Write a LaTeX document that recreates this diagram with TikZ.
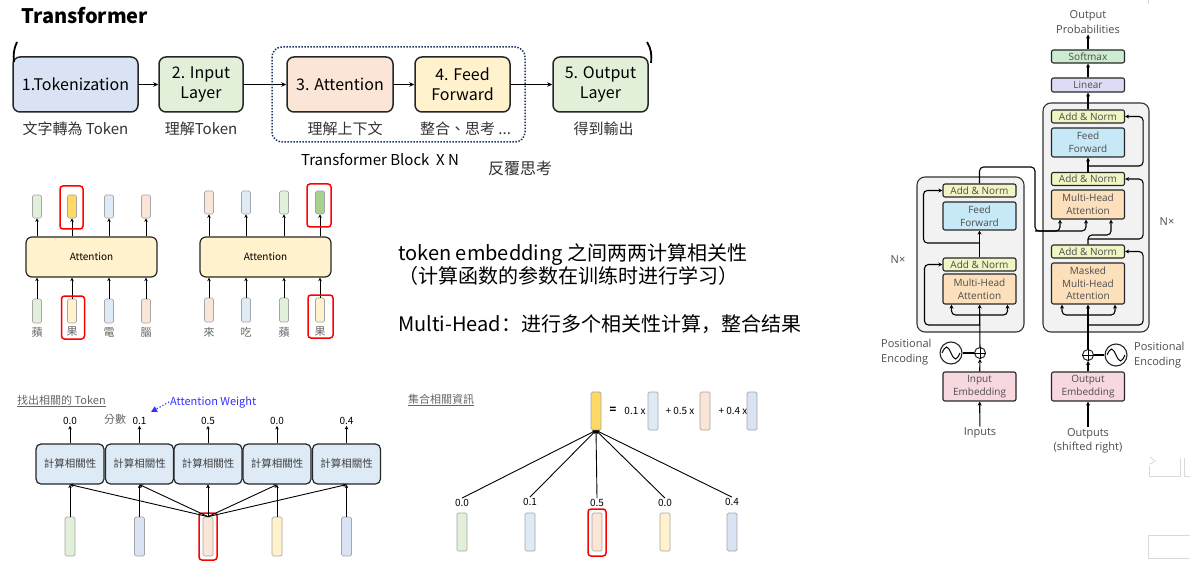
\documentclass[tikz,border=0pt]{standalone}
\usepackage{fontspec}
\setmainfont{Noto Sans CJK TC}
\newfontfamily\scfont{Noto Sans CJK SC}
\newfontfamily\paperfont{Open Sans}
\usepackage{xcolor}
\usepackage{tikz}
\usetikzlibrary{arrows.meta,calc,positioning,shapes.geometric}

\definecolor{tokblue}{HTML}{DAE3F3}
\definecolor{inpgreen}{HTML}{E2F0D9}
\definecolor{attpeach}{HTML}{FBE5D6}
\definecolor{ffyellow}{HTML}{FFF2CC}
\definecolor{vecgray}{HTML}{A6A6A6}
\definecolor{vecyellow}{HTML}{FFD966}
\definecolor{vecblue}{HTML}{DEEBF7}
\definecolor{vecgreen}{HTML}{A9D18E}
\definecolor{hlred}{HTML}{FF0000}
\definecolor{framenavy}{HTML}{203864}
\definecolor{awblue}{HTML}{3333FF}
\definecolor{papertext}{HTML}{4D4D4D}
\definecolor{blockgray}{HTML}{F2F2F2}
\definecolor{normgreen}{HTML}{F1F4C3}
\definecolor{ffblue}{HTML}{C7E8F6}
\definecolor{mhaorange}{HTML}{FCE0BC}
\definecolor{embpink}{HTML}{F8D8DF}
\definecolor{linlav}{HTML}{DCDDF4}
\definecolor{smgreen}{HTML}{CCEBD1}
\definecolor{ghost}{HTML}{D9D9D9}

\begin{document}
\begin{tikzpicture}[x=1pt,y=-1pt,
  stage/.style={draw=black!85,line width=1.5pt,rounded corners=7pt,minimum height=55pt,
    align=center,inner sep=2pt,font=\fontsize{16}{20}\selectfont},
  note/.style={font=\fontsize{15}{17}\selectfont,text=black!80,inner sep=1pt},
  flow/.style={-{Stealth[length=5pt,width=4.5pt]},line width=1.2pt},
  vlink/.style={-{Stealth[length=3.5pt,width=3.5pt]},line width=.9pt},
  vec/.style={draw=vecgray,line width=.7pt,rounded corners=1.5pt,minimum width=9pt,inner sep=0pt},
  hl/.style={draw=hlred,line width=1.5pt,rounded corners=3pt,minimum width=23pt,minimum height=43pt,inner sep=0pt},
  attn/.style={draw=black!85,line width=1.2pt,fill=ffyellow,rounded corners=6pt,minimum width=131pt,
    minimum height=40pt,font=\fontsize{10}{12}\selectfont},
  tiny/.style={font=\fontsize{11}{13}\selectfont,text=black!60,inner sep=1pt},
  relbox/.style={draw=black!85,line width=1.2pt,fill=vecblue,rounded corners=5pt,minimum width=68pt,
    minimum height=40pt,font=\fontsize{10.5}{13}\selectfont,text=black!75},
  score/.style={font=\fontsize{10}{12}\selectfont,inner sep=1pt},
  desc/.style={font=\fontsize{20}{22}\selectfont\scfont,anchor=west,inner sep=0pt},
  layer/.style={draw=black!85,line width=1.1pt,rounded corners=2pt,minimum width=73pt,inner sep=0pt,
    align=center,font=\paperfont\fontsize{10}{12.5}\selectfont,text=papertext},
  block/.style={draw=black!80,line width=1.1pt,fill=blockgray,rounded corners=8pt,inner sep=0pt},
  tarrow/.style={-{Stealth[length=4pt,width=4pt]},line width=1.1pt,rounded corners=4pt},
  paper/.style={font=\paperfont\fontsize{11}{14.5}\selectfont,text=papertext,align=center,inner sep=1pt},
  ghostline/.style={draw=ghost,line width=.8pt}]
\path[use as bounding box,fill=white] (0,0) rectangle (1190,569);

\node[anchor=west,font=\fontsize{20}{24}\selectfont\bfseries] (title) at (18,16) {Transformer};

\node[stage,fill=tokblue,minimum width=125pt] (tok) at (75.5,84.5) {1.Tokenization};
\node[stage,fill=inpgreen,minimum width=84pt,right=19.5pt of tok] (inp) {2. Input\\Layer};
\node[stage,fill=attpeach,minimum width=106pt,right=42.5pt of inp] (att) {3. Attention};
\node[stage,fill=ffyellow,minimum width=95pt,right=20.5pt of att] (ff) {4. Feed\\Forward};
\node[stage,fill=inpgreen,minimum width=95pt,right=41.5pt of ff] (outl) {5. Output\\Layer};
\node[note] (tokn) at ([yshift=-16pt]tok.south) {文字轉為 Token};
\node[note] (inpn) at ([yshift=-16pt]inp.south) {理解Token};
\node[note] (attn) at ([xshift=5pt,yshift=-16pt]att.south) {理解上下文};
\node[note] (ffn) at ([xshift=3pt,yshift=-16pt]ff.south) {整合、思考 ...};
\node[note] (outn) at ([xshift=3pt,yshift=-16pt]outl.south) {得到輸出};
\draw[flow] (tok)--(inp);
\draw[flow] (inp)--(att);
\draw[flow] (att)--(ff);
\draw[flow] (ff)--(outl);
\draw[framenavy,line width=1.5pt,dash pattern=on 1.5pt off 1.5pt,rounded corners=10pt] (272,47) rectangle (525,142);
\node[note,text=black] (blkn) at (380,160) {Transformer Block\ \ X N};
\node[note,font=\fontsize{16}{18}\selectfont] (rep) at (520,168) {反覆思考};
\draw[line width=1.8pt] (17,42) .. controls (14,48) and (13,55) .. (14,62);
\draw[line width=1.8pt] (647,42) .. controls (651,48) and (652,55) .. (651,63);

\node[attn] (attA) at (91.5,257) {Attention};
\node[attn] (attB) at (265.5,257) {Attention};
\node[vec,fill=inpgreen,minimum height=23pt] (ta1) at (37,206.5) {};
\node[vec,fill=vecyellow,minimum height=23pt] (ta2) at (72,206.5) {};
\node[vec,fill=vecblue,minimum height=23pt] (ta3) at (109,206.5) {};
\node[vec,fill=attpeach,minimum height=23pt] (ta4) at (146,206.5) {};
\node[vec,fill=inpgreen,minimum height=24pt] (ba1) at (37,311) {};
\node[vec,fill=ffyellow,minimum height=24pt] (ba2) at (72,311) {};
\node[vec,fill=vecblue,minimum height=24pt] (ba3) at (109,311) {};
\node[vec,fill=attpeach,minimum height=24pt] (ba4) at (146,311) {};
\node[tiny] (ca1) at (37,332) {蘋};
\node[tiny] (ca2) at (72,332) {果};
\node[tiny] (ca3) at (109,332) {電};
\node[tiny] (ca4) at (146,332) {腦};
\node[vec,fill=attpeach,minimum height=23pt] (tb1) at (209,202.5) {};
\node[vec,fill=vecblue,minimum height=23pt] (tb2) at (246,202.5) {};
\node[vec,fill=inpgreen,minimum height=23pt] (tb3) at (284,202.5) {};
\node[vec,fill=vecgreen,minimum height=23pt] (tb4) at (320,202.5) {};
\node[vec,fill=attpeach,minimum height=24pt] (bb1) at (209,310) {};
\node[vec,fill=vecblue,minimum height=24pt] (bb2) at (246,310) {};
\node[vec,fill=inpgreen,minimum height=24pt] (bb3) at (284,310) {};
\node[vec,fill=ffyellow,minimum height=24pt] (bb4) at (320,310) {};
\node[tiny] (cb1) at (209,332) {來};
\node[tiny] (cb2) at (246,332) {吃};
\node[tiny] (cb3) at (284,332) {蘋};
\node[tiny] (cb4) at (320,332) {果};
\foreach \i in {1,...,4}{
  \draw[vlink] (ta\i |- attA.north) -- (ta\i.south);
  \draw[vlink] (ba\i.north) -- (ba\i |- attA.south);
  \draw[vlink] (tb\i |- attB.north) -- (tb\i.south);
  \draw[vlink] (bb\i.north) -- (bb\i |- attB.south);
}
\node[hl] (hta) at (71.5,207.5) {};
\node[hl] (hba) at (73,317.5) {};
\node[hl,minimum width=24pt] (htb) at (319,205.5) {};
\node[hl,minimum width=25pt] (hbb) at (320.5,316.5) {};

\node[desc] (d1) at (398,255) {token embedding 之间两两计算相关性};
\node[desc] (d2) at (398,276) {（计算函数的参数在训练时进行学习）};
\node[desc] (d3) at (398,324) {Multi-Head：进行多个相关性计算，整合结果};

\node[tiny,anchor=west] (find) at (16,401) {\underline{找出相關的 Token}};
\node[font=\fontsize{11}{13}\selectfont,text=awblue,anchor=west,inner sep=1pt] (aw) at (169,402) {Attention Weight};
\coordinate (awtip) at (151,412);
\draw[awblue,line width=1.2pt,dotted,-{Triangle[length=6pt,width=6pt]}] (aw.west) -- (awtip);
\node[tiny] (fen) at (115,419) {分數};
\node[relbox] (r1) at (70,464) {計算相關性};
\node[relbox] (r2) at (139.5,464) {計算相關性};
\node[relbox] (r3) at (208,464) {計算相關性};
\node[relbox] (r4) at (277,464) {計算相關性};
\node[relbox] (r5) at (346.5,464) {計算相關性};
\node[score] (s1) at (70,421) {0.0};
\node[score] (s2) at (139.5,421) {0.1};
\node[score] (s3) at (208,421) {0.5};
\node[score] (s4) at (277,421) {0.0};
\node[score] (s5) at (346.5,421) {0.4};
\node[vec,fill=inpgreen,minimum width=10pt,minimum height=39pt] (v1) at (70,536.5) {};
\node[vec,fill=tokblue,minimum width=10pt,minimum height=39pt] (v2) at (139.5,536.5) {};
\node[vec,fill=attpeach,minimum width=10pt,minimum height=39pt] (v3) at (208,536.5) {};
\node[vec,fill=ffyellow,minimum width=10pt,minimum height=39pt] (v4) at (277,536.5) {};
\node[vec,fill=tokblue,minimum width=10pt,minimum height=39pt] (v5) at (346.5,536.5) {};
\node[hl,minimum width=18pt,minimum height=47pt] (hv3) at (208,536.5) {};
\foreach \i in {1,...,5}{
  \draw[vlink] (r\i) -- (s\i);
  \draw[vlink] (v\i) -- (r\i);
  \draw[vlink] (v3.north) -- (r\i.south);
}

\node[tiny,anchor=west] (gather) at (407,400) {\underline{集合相關資訊}};
\node[vec,fill=vecyellow,minimum width=10pt,minimum height=38pt] (sum) at (596,411) {};
\node[score,font=\fontsize{11}{12}\selectfont\bfseries] (eq) at (613,410) {=};
\node[score] (w1) at (635,411) {0.1 x};
\node[vec,fill=vecblue,minimum width=10pt,minimum height=38pt] (m1) at (653,411) {};
\node[score] (w2) at (680,411) {+ 0.5 x};
\node[vec,fill=attpeach,minimum width=10pt,minimum height=38pt] (m2) at (705,411) {};
\node[score] (w3) at (733,411) {+ 0.4 x};
\node[vec,fill=tokblue,minimum width=10pt,minimum height=38pt] (m3) at (752,411) {};
\node[vec,fill=inpgreen,minimum width=10pt,minimum height=38pt] (u1) at (462,532) {};
\node[vec,fill=vecblue,minimum width=10pt,minimum height=38pt] (u2) at (530,532) {};
\node[vec,fill=attpeach,minimum width=10pt,minimum height=38pt] (u3) at (597,532) {};
\node[vec,fill=ffyellow,minimum width=10pt,minimum height=38pt] (u4) at (665,532) {};
\node[vec,fill=tokblue,minimum width=10pt,minimum height=38pt] (u5) at (732,532) {};
\node[hl,minimum width=18pt,minimum height=47pt] (hu3) at (597,532.5) {};
\node[score] (p1) at (462,503) {0.0};
\node[score] (p2) at (530,502) {0.1};
\node[score] (p3) at (597,503) {0.5};
\node[score] (p4) at (665,503) {0.0};
\node[score] (p5) at (732,502) {0.4};
\foreach \i in {1,...,5}{
  \draw[vlink] (p\i.north) -- (sum.south);
}

\node[block,minimum width=107pt,minimum height=155pt] (enc) at (970.5,254.5) {};
\node[block,minimum width=106pt,minimum height=229pt] (dec) at (1096,217.5) {};
\node[layer,fill=normgreen,minimum height=13pt] (ean2) at (979.5,190.5) {Add \& Norm};
\node[layer,fill=ffblue,minimum height=28pt] (eff) at (979.5,216) {Feed\\Forward};
\node[layer,fill=normgreen,minimum height=13pt] (ean1) at (979.5,264.5) {Add \& Norm};
\node[layer,fill=mhaorange,minimum height=30pt] (emha) at (979.5,289) {Multi-Head\\Attention};
\node[layer,fill=embpink,minimum height=29pt] (ein) at (979.5,386.5) {Input\\Embedding};
\node[layer,fill=smgreen,minimum height=13pt] (smax) at (1088,56.5) {Softmax};
\node[layer,fill=linlav,minimum height=14pt] (lin) at (1088,85) {Linear};
\node[layer,fill=normgreen,minimum height=13pt] (dan3) at (1088,116.5) {Add \& Norm};
\node[layer,fill=ffblue,minimum height=29pt] (dff) at (1088,142.5) {Feed\\Forward};
\node[layer,fill=normgreen,minimum height=13pt] (dan2) at (1088,179) {Add \& Norm};
\node[layer,fill=mhaorange,minimum height=29pt] (dmha) at (1088,204.5) {Multi-Head\\Attention};
\node[layer,fill=normgreen,minimum height=13pt] (dan1) at (1088,251.5) {Add \& Norm};
\node[layer,fill=mhaorange,minimum height=41pt] (dmmha) at (1088,283.5) {Masked\\Multi-Head\\Attention};
\node[layer,fill=embpink,minimum height=29pt] (dout) at (1088,386.5) {Output\\Embedding};
\node[paper] (oprob) at (1088,22) {Output\\Probabilities};
\node[paper] (inputs) at (980,433) {Inputs};
\node[paper] (outputs) at (1088,441) {Outputs\\(shifted right)};
\node[paper] (encn) at (898,260) {N×};
\node[paper] (decn) at (1167,222) {N×};
\node[paper,align=left,anchor=west] (epos) at (880,352) {Positional\\Encoding};
\node[paper,align=left,anchor=west] (dpos) at (1133,355) {Positional\\Encoding};
\node[circle,draw=black!85,line width=1.1pt,minimum size=22pt,inner sep=0pt] (esin) at (951,353) {};
\node[circle,draw=black!85,line width=1pt,minimum size=11pt,inner sep=0pt] (eplus) at (980,353) {};
\node[circle,draw=black!85,line width=1.1pt,minimum size=22pt,inner sep=0pt] (dsin) at (1116,355) {};
\node[circle,draw=black!85,line width=1pt,minimum size=11pt,inner sep=0pt] (dplus) at (1088,355) {};
\draw[line width=.9pt] (eplus.north) -- (eplus.south) (eplus.west) -- (eplus.east);
\draw[line width=.9pt] (dplus.north) -- (dplus.south) (dplus.west) -- (dplus.east);
\draw[line width=1pt] ([xshift=-9pt]esin.center) sin ++(4.5,-6) cos ++(4.5,6) sin ++(4.5,6) cos ++(4.5,-6);
\draw[line width=1pt] ([xshift=-9pt]dsin.center) sin ++(4.5,-6) cos ++(4.5,6) sin ++(4.5,6) cos ++(4.5,-6);

\coordinate (esplit) at (980,315);
\coordinate (eres1) at (980,325);
\coordinate (eres2) at (980,243);
\coordinate (eo1) at (1035,167);
\coordinate (eo2) at (1035,231);
\coordinate (kin) at ([xshift=-28pt]dmha.south);
\coordinate (vin) at ([xshift=-2pt]dmha.south);
\coordinate (qin) at ([xshift=23pt]dmha.south);
\coordinate (dsplit) at (1088,315);
\coordinate (dres1) at (1088,325);
\coordinate (dq) at (1088,235);
\coordinate (dres2) at (1088,239);
\coordinate (dres3) at (1088,166);

\draw[tarrow] (inputs) -- (ein);
\draw[tarrow] (ein) -- (eplus);
\draw[line width=1.1pt] (esin) -- (eplus);
\draw[tarrow] (eplus) -- (emha);
\draw[tarrow] (esplit) -| ([xshift=-28pt]emha.south);
\draw[tarrow] (esplit) -| ([xshift=28pt]emha.south);
\draw[tarrow] (eres1) -| ([xshift=-18pt]ean1.west) -- (ean1.west);
\draw[tarrow] (ean1) -- (eff);
\draw[tarrow] (eres2) -| ([xshift=-19pt]ean2.west) -- (ean2.west);
\draw[tarrow] (ean2.north) |- (eo1) |- (vin |- eo2) -- (vin);
\draw[tarrow] (eo2) -| (kin);

\draw[tarrow] (outputs) -- (dout);
\draw[tarrow] (dout) -- (dplus);
\draw[line width=1.1pt] (dsin) -- (dplus);
\draw[tarrow] (dplus) -- (dmmha);
\draw[tarrow] (dsplit) -| ([xshift=-26pt]dmmha.south);
\draw[tarrow] (dsplit) -| ([xshift=27pt]dmmha.south);
\draw[tarrow] (dres1) -| ([xshift=18pt]dan1.east) -- (dan1.east);
\draw[tarrow] (dan1.north) -- (dq) -| (qin);
\draw[tarrow] (dres2) -| ([xshift=18pt]dan2.east) -- (dan2.east);
\draw[tarrow] (dan2) -- (dff);
\draw[tarrow] (dres3) -| ([xshift=18pt]dan3.east) -- (dan3.east);
\draw[tarrow] (dan3) -- (lin);
\draw[tarrow] (lin) -- (smax);
\draw[tarrow] (smax) -- (oprob);

\draw[ghostline] (1148,0) -- (1148,4);
\draw[ghostline] (1150,457) -- (1155,461) -- (1150,464);
\draw[ghostline] (1149,466) |- (1180,476) -- (1180,458);
\draw[ghostline] (1184,458) -- (1184,476) -- (1192,476);
\draw[ghostline] (1148,535) rectangle (1195,558);
\end{tikzpicture}
\end{document}
